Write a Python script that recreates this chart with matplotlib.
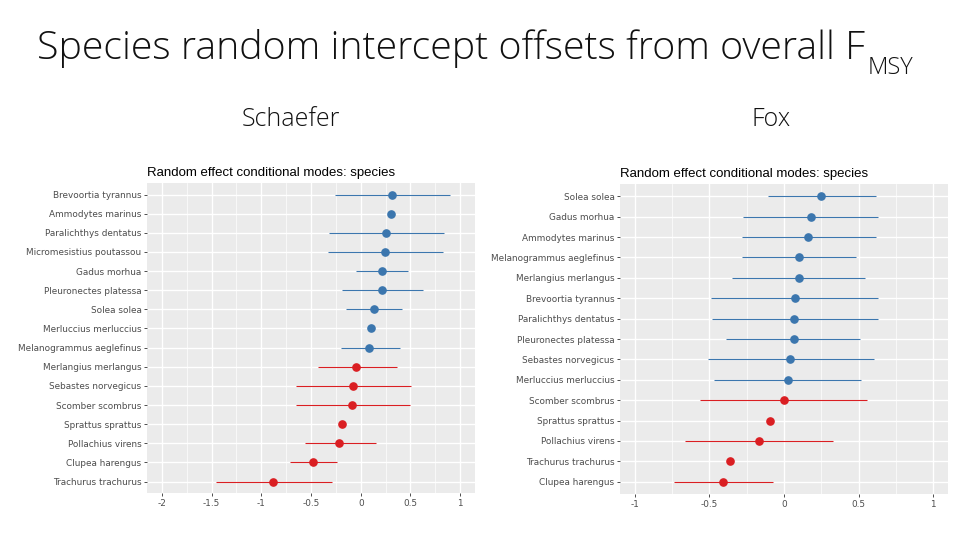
import matplotlib
matplotlib.use("Agg")
import matplotlib.pyplot as plt
import numpy as np

# ---- data ----
schaefer_species = ["Brevoortia tyrannus", "Ammodytes marinus", "Paralichthys dentatus",
                    "Micromesistius poutassou", "Gadus morhua", "Pleuronectes platessa",
                    "Solea solea", "Merluccius merluccius", "Melanogrammus aeglefinus",
                    "Merlangius merlangus", "Sebastes norvegicus", "Scomber scombrus",
                    "Sprattus sprattus", "Pollachius virens", "Clupea harengus",
                    "Trachurus trachurus"]
schaefer_est = [0.315, 0.305, 0.251, 0.245, 0.211, 0.215, 0.131, 0.108, 0.087,
                -0.043, -0.073, -0.083, -0.191, -0.217, -0.482, -0.884]
schaefer_lo = [-0.257, np.nan, -0.318, -0.325, -0.047, -0.191, -0.144, np.nan, -0.197,
               -0.428, -0.646, -0.653, np.nan, -0.563, -0.710, -1.46]
schaefer_hi = [0.898, np.nan, 0.841, 0.824, 0.479, 0.623, 0.412, np.nan, 0.396,
               0.362, 0.506, 0.496, np.nan, 0.151, -0.237, -0.291]
schaefer_ticks = [-2, -1.5, -1, -0.5, 0, 0.5, 1]
schaefer_ticklabels = ["-2", "-1.5", "-1", "-0.5", "0", "0.5", "1"]

fox_species = ["Solea solea", "Gadus morhua", "Ammodytes marinus", "Melanogrammus aeglefinus",
               "Merlangius merlangus", "Brevoortia tyrannus", "Paralichthys dentatus",
               "Pleuronectes platessa", "Sebastes norvegicus", "Merluccius merluccius",
               "Scomber scombrus", "Sprattus sprattus", "Pollachius virens",
               "Trachurus trachurus", "Clupea harengus"]
fox_est = [0.250, 0.178, 0.163, 0.098, 0.098, 0.071, 0.066, 0.064, 0.040, 0.024,
           -0.003, -0.097, -0.169, -0.359, -0.411]
fox_lo = [-0.108, -0.272, -0.283, -0.283, -0.350, -0.487, -0.485, -0.386, -0.511, -0.467,
          -0.563, np.nan, -0.664, np.nan, -0.736]
fox_hi = [0.615, 0.633, 0.615, 0.485, 0.546, 0.633, 0.633, 0.510, 0.604, 0.519,
          0.555, np.nan, 0.331, np.nan, -0.077]
fox_ticks = [-1, -0.5, 0, 0.5, 1]
fox_ticklabels = ["-1", "-0.5", "0", "0.5", "1"]

main_title = "Species random intercept offsets from overall F"
main_sub = "MSY"
panel_title = "Random effect conditional modes: species"
BLUE = "#3B76AE"
RED = "#DA1E22"

fig = plt.figure(figsize=(9.6, 5.4), dpi=100)
fig.patch.set_facecolor("white")

fig.text(37 / 960, 1 - 49 / 540, main_title, ha="left",
         va="center", fontsize=28.3, family="Open Sans", fontweight="light", color="#111111")

def draw(ax, species, est, lo, hi, ticks, ticklabels, xlim):
    n = len(species)
    ys = np.arange(n)[::-1]
    ax.set_facecolor("#EBEBEB")
    ax.set_xlim(*xlim)
    ax.set_ylim(-0.6, n - 1 + 0.6)
    ax.set_xticks(ticks)
    ax.set_xticklabels(ticklabels)
    minor = [(ticks[i] + ticks[i + 1]) / 2 for i in range(len(ticks) - 1)]
    ax.set_xticks(minor, minor=True)
    ax.set_yticks(ys)
    ax.set_yticklabels(species)
    ax.grid(True, which="major", color="white", lw=1.0)
    ax.grid(True, which="minor", axis="x", color="white", lw=0.5)
    ax.set_axisbelow(True)
    for s in ax.spines.values():
        s.set_visible(False)
    ax.tick_params(axis="both", which="major", length=2.5, width=0.7, color="#4D4D4D",
                   labelcolor="#4D4D4D", labelsize=6.4, pad=1.5)
    ax.tick_params(axis="x", which="minor", length=0)
    for y, e, l, h in zip(ys, est, lo, hi):
        c = BLUE if e > 0 else RED
        if not np.isnan(l):
            ax.plot([l, h], [y, y], color=c, lw=0.8, solid_capstyle="butt")
        ax.plot([e], [y], "o", color=c, ms=5.2, mec=c)
    ax.set_title(panel_title, fontsize=9.5, family="Liberation Sans", loc="left",
                 pad=5, color="black")

ax1 = fig.add_axes([0.1531, 0.087, 0.3417, 0.574])
draw(ax1, schaefer_species, schaefer_est, schaefer_lo, schaefer_hi,
     schaefer_ticks, schaefer_ticklabels, (-2.15, 1.15))
ax2 = fig.add_axes([0.6458, 0.0852, 0.3417, 0.574])
draw(ax2, fox_species, fox_est, fox_lo, fox_hi, fox_ticks, fox_ticklabels, (-1.1, 1.1))

fig.text(291 / 960, 1 - 120 / 540, "Schaefer", ha="center", va="center", fontsize=18,
         family="Open Sans", fontweight="light", color="#111111")
fig.text(771 / 960, 1 - 120 / 540, "Fox", ha="center", va="center", fontsize=18,
         family="Open Sans", fontweight="light", color="#111111")

# subscript MSY after title
fig.canvas.draw()
r = fig.canvas.get_renderer()
t = fig.texts[0]
bb = t.get_window_extent(r)
fig.text(bb.x1 / 960 + 0.003, 1 - 68 / 540, main_sub, ha="left", va="center", fontsize=17,
         family="Open Sans", fontweight="light", color="#111111")

fig.savefig("out.png", dpi=100)
